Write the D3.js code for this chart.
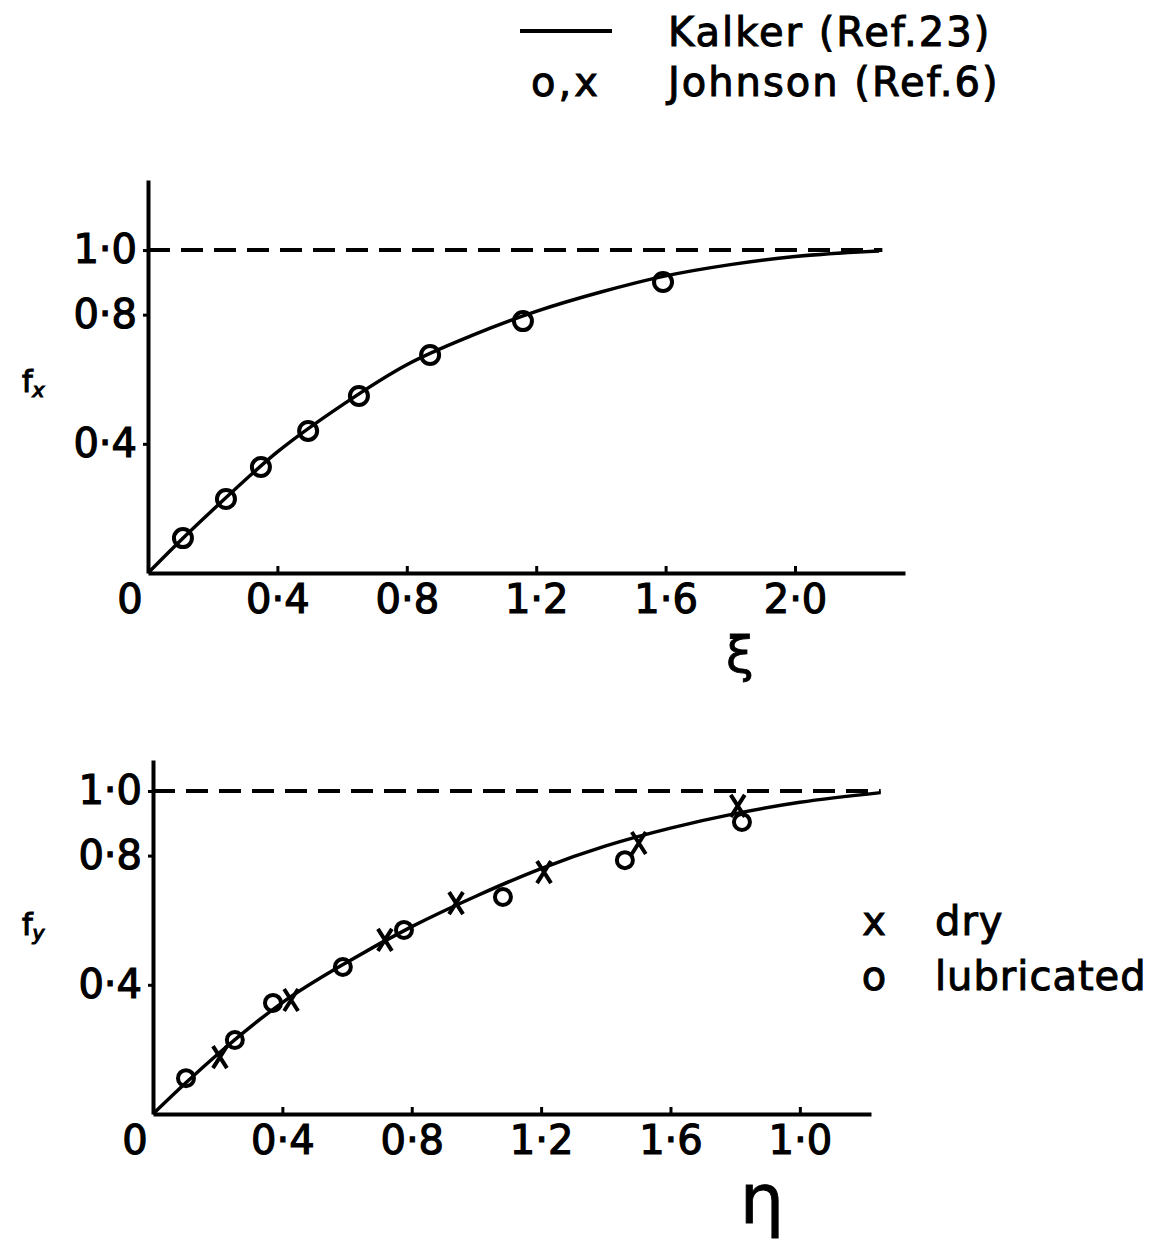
<!DOCTYPE html>
<html>
<head>
<meta charset="utf-8">
<script src="https://cdn.jsdelivr.net/npm/d3@7"></script>
<style>
  body { margin: 0; background: #fff; }
  svg { display: block; }
  text { font-family: "DejaVu Sans", sans-serif; fill: #000; }
</style>
</head>
<body>
<div id="chart"></div>
<script>
// Kalker curves
const kalkerX = [0, 0.1, 0.2, 0.4, 0.6, 0.8, 1.0, 1.2, 1.4, 1.6, 1.8, 2.0, 2.26];
const kalkerFx = [0, 0.1, 0.195, 0.375, 0.52, 0.645, 0.735, 0.81, 0.87, 0.92, 0.955, 0.98, 0.997];
const kalkerEta = [0, 0.1, 0.2, 0.4, 0.6, 0.8, 1.0, 1.2, 1.4, 1.6, 1.8, 2.0, 2.25];
const kalkerFy = [0, 0.095, 0.185, 0.345, 0.47, 0.58, 0.675, 0.76, 0.83, 0.885, 0.93, 0.965, 0.995];

// Johnson measurements, longitudinal
const johnsonXi = [0.108, 0.241, 0.349, 0.495, 0.652, 0.872, 1.159, 1.592];
const johnsonFx = [0.108, 0.229, 0.328, 0.440, 0.548, 0.675, 0.780, 0.901];

// Johnson measurements, lateral
const lubEta = [0.102, 0.253, 0.371, 0.587, 0.776, 1.082, 1.459, 1.821];
const lubFy  = [0.111, 0.229, 0.344, 0.455, 0.570, 0.672, 0.786, 0.904];
const dryEta = [0.207, 0.427, 0.717, 0.937, 1.209, 1.502, 1.808];
const dryFy  = [0.176, 0.353, 0.539, 0.653, 0.749, 0.839, 0.954];

// tick labels
const xTicks = [0.4, 0.8, 1.2, 1.6, 2.0];
const xTickLabelsTop = ["0·4", "0·8", "1·2", "1·6", "2·0"];
const xTickLabelsBottom = ["0·4", "0·8", "1·2", "1·6", "1·0"];
const yTicks = [0.4, 0.8, 1.0];
const yTickLabels = ["0·4", "0·8", "1·0"];

const W = 1164, H = 1243;

const svg = d3.select("#chart")
  .append("svg")
    .attr("width", W)
    .attr("height", H);

const crossPath = "M-7,-11L7,11M7,-11L-7,11";

function drawPanel(opt) {
  const x = d3.scaleLinear().domain(opt.xDomain).range(opt.xRange);
  const y = d3.scaleLinear().domain(opt.yDomain).range(opt.yRange);
  const g = svg.append("g");

  // dashed asymptote
  g.append("line")
    .attr("x1", x(0)).attr("x2", x(opt.dashEnd))
    .attr("y1", y(1)).attr("y2", y(1))
    .attr("stroke", "#000")
    .attr("stroke-width", 4)
    .attr("stroke-dasharray", "22,11");

  // x axis
  const xAxis = g.append("g")
    .attr("transform", `translate(0,${y(0)})`)
    .call(d3.axisBottom(x)
      .tickValues(xTicks)
      .tickSizeInner(-7)
      .tickSizeOuter(0)
      .tickPadding(12)
      .tickFormat((d, i) => opt.xLabels[i]));

  // y axis
  const yAxis = g.append("g")
    .attr("transform", `translate(${x(0)},0)`)
    .call(d3.axisLeft(y)
      .tickValues(yTicks)
      .tickSizeInner(5)
      .tickSizeOuter(0)
      .tickPadding(6)
      .tickFormat((d, i) => yTickLabels[i]));

  [xAxis, yAxis].forEach(a => {
    a.attr("font-family", null).attr("font-size", null);
    a.select(".domain").attr("stroke", "#000").attr("stroke-width", 4);
    a.selectAll(".tick line").attr("stroke", "#000").attr("stroke-width", 3);
    a.selectAll(".tick text")
      .style("font-size", "40px")
      .attr("fill", "#000")
      .attr("stroke", "#000")
      .attr("stroke-width", 1.2);
  });

  // origin label
  g.append("text")
    .attr("x", x(0) - 18)
    .attr("y", y(0) + 12)
    .attr("dy", "0.71em")
    .attr("text-anchor", "middle")
    .style("font-size", "40px")
    .attr("stroke", "#000").attr("stroke-width", 1.2)
    .text("0");

  // Kalker curve
  g.append("path")
    .datum(d3.zip(opt.curveX, opt.curveY))
    .attr("fill", "none")
    .attr("stroke", "#000")
    .attr("stroke-width", 3.5)
    .attr("d", d3.line()
      .x(d => x(d[0]))
      .y(d => y(d[1]))
      .curve(d3.curveMonotoneX));

  // circles
  g.selectAll("circle.pt")
    .data(d3.zip(opt.circX, opt.circY))
    .join("circle")
      .attr("class", "pt")
      .attr("cx", d => x(d[0]))
      .attr("cy", d => y(d[1]))
      .attr("r", opt.r)
      .attr("fill", "none")
      .attr("stroke", "#000")
      .attr("stroke-width", 4);

  // crosses
  if (opt.crossX) {
    g.selectAll("path.cross")
      .data(d3.zip(opt.crossX, opt.crossY))
      .join("path")
        .attr("class", "cross")
        .attr("transform", d => `translate(${x(d[0])},${y(d[1])})`)
        .attr("d", crossPath)
        .attr("fill", "none")
        .attr("stroke", "#000")
        .attr("stroke-width", 4);
  }

  // y axis title: f with subscript
  const yl = g.append("text")
    .attr("x", opt.yLabelPos[0])
    .attr("y", opt.yLabelPos[1])
    .style("font-size", "30px")
    .attr("stroke", "#000").attr("stroke-width", 1.2)
    .text("f");
  yl.append("tspan")
    .attr("dy", 5)
    .style("font-size", "20px")
    .style("font-style", "italic")
    .text(opt.sub);

  // x axis title
  g.append("text")
    .attr("x", opt.xLabelPos[0])
    .attr("y", opt.xLabelPos[1])
    .attr("text-anchor", "middle")
    .style("font-size", opt.xLabelSize)
    .attr("stroke", "#000").attr("stroke-width", 0.8)
    .text(opt.xTitle);
}

// top panel: longitudinal
drawPanel({
  xDomain: [0, 2.34], xRange: [148, 905],
  yDomain: [0, 1.217], yRange: [573, 180],
  dashEnd: 2.27,
  xLabels: xTickLabelsTop,
  curveX: kalkerX, curveY: kalkerFx,
  circX: johnsonXi, circY: johnsonFx, r: 9,
  yLabelPos: [22, 392], sub: "x",
  xLabelPos: [740, 672], xTitle: "ξ", xLabelSize: "50px"
});

// bottom panel: lateral
drawPanel({
  xDomain: [0, 2.22], xRange: [153, 871],
  yDomain: [0, 1.096], yRange: [1114, 760],
  dashEnd: 2.25,
  xLabels: xTickLabelsBottom,
  curveX: kalkerEta, curveY: kalkerFy,
  circX: lubEta, circY: lubFy, r: 8,
  crossX: dryEta, crossY: dryFy,
  yLabelPos: [22, 935], sub: "y",
  xLabelPos: [762, 1224], xTitle: "η", xLabelSize: "70px"
});

// top legend
svg.append("line")
  .attr("x1", 520).attr("x2", 612)
  .attr("y1", 31).attr("y2", 31)
  .attr("stroke", "#000").attr("stroke-width", 4);

const legendTop = [
  {key: "", label: "Kalker (Ref.23)", y: 46},
  {key: "o,x", label: "Johnson (Ref.6)", y: 96}
];
legendTop.forEach(d => {
  svg.append("text")
    .attr("x", 566).attr("y", d.y)
    .attr("text-anchor", "middle")
    .style("font-size", "40px")
    .style("letter-spacing", "3px")
    .attr("stroke", "#000").attr("stroke-width", 1)
    .text(d.key);
  svg.append("text")
    .attr("x", 668).attr("y", d.y)
    .style("font-size", "40px")
    .style("letter-spacing", "2px")
    .attr("stroke", "#000").attr("stroke-width", 1)
    .text(d.label);
});

// bottom legend
const legendBottom = [
  {key: "x", label: "dry", y: 935},
  {key: "o", label: "lubricated", y: 990}
];
legendBottom.forEach(d => {
  svg.append("text")
    .attr("x", 874).attr("y", d.y)
    .attr("text-anchor", "middle")
    .style("font-size", "40px")
    .attr("stroke", "#000").attr("stroke-width", 1)
    .text(d.key);
  svg.append("text")
    .attr("x", 935).attr("y", d.y)
    .style("font-size", "40px")
    .style("letter-spacing", "1px")
    .attr("stroke", "#000").attr("stroke-width", 1)
    .text(d.label);
});
</script>
</body>
</html>
